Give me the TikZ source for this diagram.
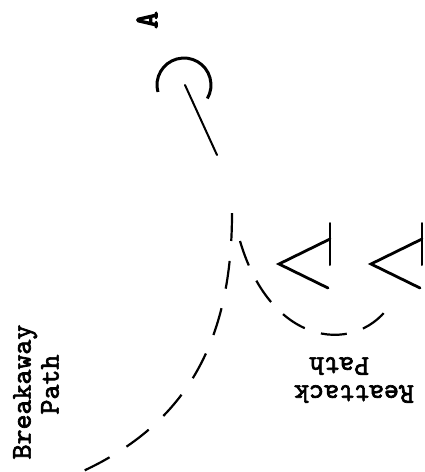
\documentclass[tikz,border=0pt]{standalone}
\usepackage{fontspec}
\usepackage{tikz}

\newfontfamily\typer{lmmono10-regular.otf}[FakeBold=2.4]
\newfontfamily\typerheavy{lmmono10-regular.otf}[FakeBold=3.5]

\begin{document}
\begin{tikzpicture}[
        x=1pt,
        y=-1pt,
        pathtext/.style={
            font=\typer\fontsize{28.5}{28}\selectfont,
            align=left,
            inner sep=0pt
        },
        mark a/.style={
            font=\typerheavy\fontsize{33}{28}\selectfont,
            inner sep=0pt
        },
        stroke/.style={
            line width=2pt,
            line cap=round
        },
        wing/.style={
            line width=2.8pt,
            line cap=round,
            line join=miter
        },
        dashpath/.style={
            line width=2.2pt,
            dash pattern=on 28pt off 20pt
        },
        reattack/.style={
            line width=2.2pt,
            dash pattern=on 26pt off 17pt
        }
    ]
        \useasboundingbox (0,0) rectangle (424,472);

        % Aim point A with its circle and line
        \node (pointa) [mark a, rotate=90] at (147,20) {A};
        \coordinate (hub) at (185,85);
        \coordinate (tail) at (217,155);
        \draw [line width=3pt] (157.9,92) arc[start angle=165, end angle=390, radius=27];
        \draw [stroke] (hub) -- (tail);

        % Split point of the two paths
        \coordinate (split) at (232,213);
        \coordinate (rsplit) at (240,241);
        \coordinate (breakend) at (72,476);
        \coordinate (reend) at (392,302);

        % Aircraft symbols
        \foreach \dx in {0,92} {
            \draw [stroke] (330+\dx,223) -- (330+\dx,265);
            \draw [wing] (330+\dx,239) -- (279+\dx,264) -- (328+\dx,288);
        }

        % Dashed paths
        \draw [dashpath] (split) .. controls (232,350) and (180,430) .. (breakend);
        \draw [reattack] (rsplit) .. controls (272,350) and (360,355) .. (reend);

        % Labels
        \node (breaklabel) [pathtext, rotate=90] at (36,392) {Breakaway\\~~~Path};
        \node (relabel) [pathtext, rotate=180] at (354,380) {Reattack\\~~~Path};
    \end{tikzpicture}
\end{document}
